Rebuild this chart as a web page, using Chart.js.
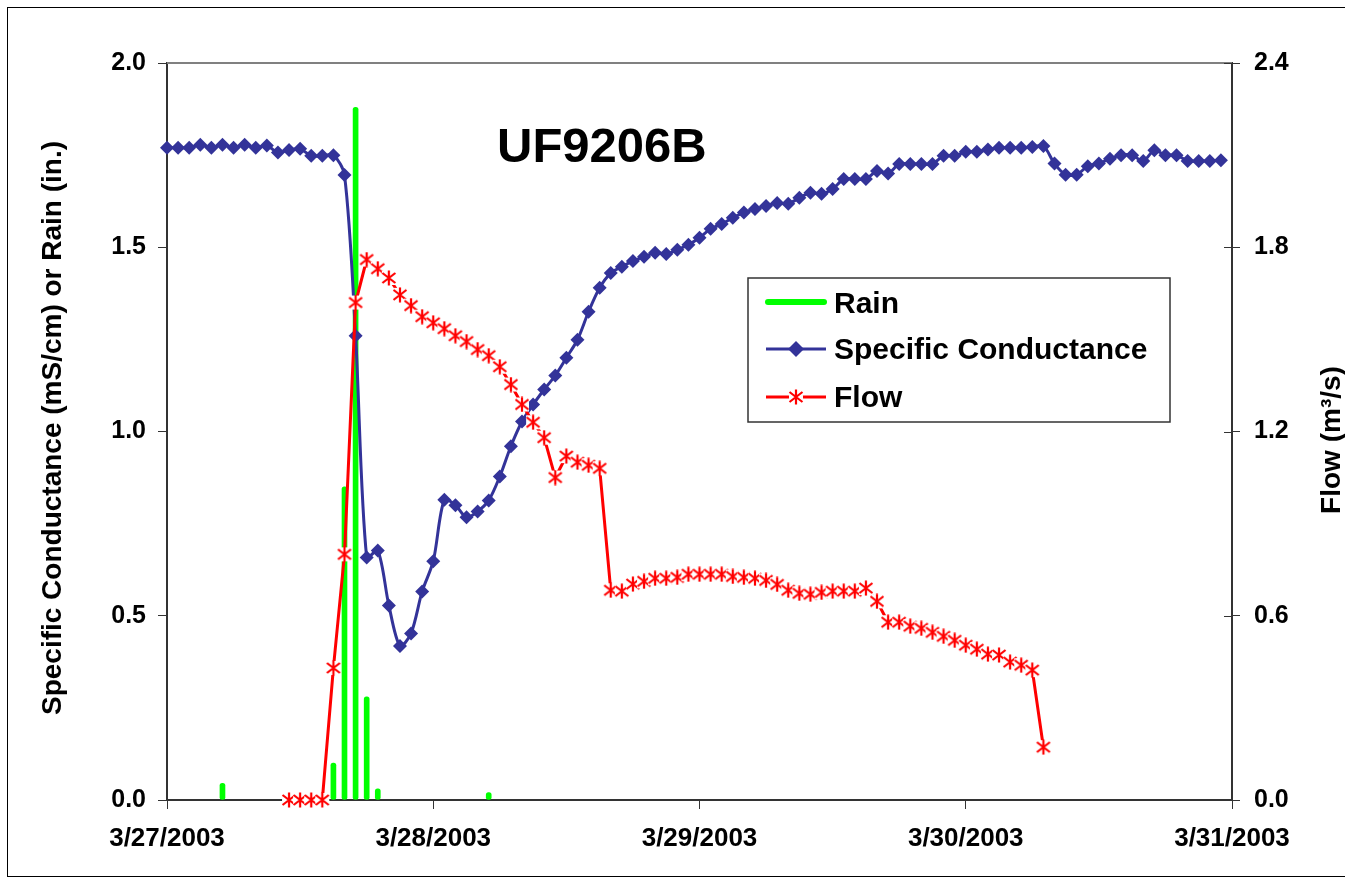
<!DOCTYPE html>
<html>
<head>
<meta charset="utf-8">
<title>UF9206B</title>
<script src="https://cdn.jsdelivr.net/npm/chart.js@4.4.1/dist/chart.umd.min.js"></script>
<style>
  html, body { margin: 0; padding: 0; background: #fff; }
  #wrap { width: 1345px; height: 883px; }
</style>
</head>
<body>
<div id="wrap"><canvas id="chart" width="1345" height="883"></canvas></div>
<script>
// x axis: hours after 3/27/2003 00:00
const dateLabels = ["3/27/2003", "3/28/2003", "3/29/2003", "3/30/2003", "3/31/2003"];

// specific conductance (mS/cm), hourly from hour 0
const conductance = [
  1.770, 1.770, 1.770, 1.778, 1.770, 1.778, 1.770, 1.778, 1.770, 1.776,
  1.757, 1.764, 1.767, 1.748, 1.748, 1.750, 1.696, 1.260, 0.658, 0.677,
  0.528, 0.418, 0.452, 0.566, 0.648, 0.815, 0.800, 0.767, 0.783, 0.813,
  0.878, 0.960, 1.027, 1.073, 1.114, 1.152, 1.200, 1.249, 1.325, 1.390,
  1.430, 1.447, 1.463, 1.474, 1.485, 1.482, 1.493, 1.507, 1.526, 1.550,
  1.563, 1.580, 1.594, 1.604, 1.612, 1.620, 1.618, 1.634, 1.648, 1.645,
  1.658, 1.685, 1.685, 1.685, 1.707, 1.700, 1.726, 1.726, 1.726, 1.726,
  1.748, 1.748, 1.759, 1.759, 1.765, 1.770, 1.770, 1.770, 1.772, 1.775,
  1.727, 1.697, 1.697, 1.720, 1.727, 1.740, 1.750, 1.750, 1.734, 1.763,
  1.750, 1.750, 1.734, 1.734, 1.734, 1.736
];

// flow (m3/s), hourly starting at hour 11
const flowStartHour = 11;
const flow = [
  0, 0, 0, 0, 0.43, 0.80, 1.62, 1.76, 1.73, 1.70,
  1.645, 1.61, 1.574, 1.554, 1.535, 1.512, 1.493, 1.467, 1.447, 1.411,
  1.353, 1.288, 1.23, 1.18, 1.05, 1.12, 1.10, 1.09, 1.08, 0.683,
  0.68, 0.703, 0.712, 0.722, 0.722, 0.725, 0.735, 0.735, 0.735, 0.735,
  0.728, 0.725, 0.722, 0.715, 0.702, 0.683, 0.673, 0.670, 0.676, 0.68,
  0.68, 0.68, 0.69, 0.647, 0.579, 0.579, 0.566, 0.559, 0.546, 0.533,
  0.52, 0.504, 0.491, 0.475, 0.472, 0.449, 0.439, 0.423, 0.172
];

// rain (in.)
const rainHours = [5, 15, 16, 17, 18, 19, 29];
const rain = [0.045, 0.10, 0.85, 1.88, 0.28, 0.03, 0.02];

const FONT = '"Liberation Sans", Arial, Helvetica, sans-serif';
const NAVY = "#333399";
const RED = "#FF0000";
const GREEN = "#00FF00";

// excel style star marker on a white square
function starMarker() {
  const c = document.createElement("canvas");
  c.width = 16; c.height = 16;
  const g = c.getContext("2d");
  g.fillStyle = "#fff";
  g.fillRect(1, 1, 14, 14);
  g.strokeStyle = RED;
  g.lineWidth = 2.2;
  g.beginPath();
  g.moveTo(8, 0.5); g.lineTo(8, 15.5);
  g.moveTo(1.5, 3); g.lineTo(14.5, 13);
  g.moveTo(14.5, 3); g.lineTo(1.5, 13);
  g.stroke();
  return c;
}
const star = starMarker();

const decor = {
  id: "decor",
  beforeDraw(chart) {
    const ctx = chart.ctx;
    ctx.save();
    ctx.fillStyle = "#fff";
    ctx.fillRect(0, 0, chart.width, chart.height);
    ctx.strokeStyle = "#000";
    ctx.lineWidth = 1;
    ctx.strokeRect(7.5, 7.5, chart.width + 20, 869);
    ctx.restore();
  },
  afterDraw(chart) {
    const { ctx, chartArea: a, scales } = chart;
    ctx.save();

    // top edge of plot area
    ctx.strokeStyle = "#808080";
    ctx.lineWidth = 2;
    ctx.beginPath();
    ctx.moveTo(a.left, a.top);
    ctx.lineTo(a.right, a.top);
    ctx.stroke();

    // right axis ticks cross the axis
    ctx.strokeStyle = "#333";
    ctx.lineWidth = 1;
    scales.y1.ticks.forEach(t => {
      const y = Math.round(scales.y1.getPixelForValue(t.value)) + 0.5;
      ctx.beginPath();
      ctx.moveTo(a.right - 8, y);
      ctx.lineTo(a.right, y);
      ctx.stroke();
    });

    // station name
    ctx.fillStyle = "#000";
    ctx.font = "bold 49px " + FONT;
    ctx.textAlign = "left";
    ctx.textBaseline = "alphabetic";
    ctx.fillText("UF9206B", 497, 162);

    // axis titles
    ctx.font = "bold 28px " + FONT;
    ctx.textAlign = "center";
    ctx.save();
    ctx.translate(61, 428);
    ctx.rotate(-Math.PI / 2);
    ctx.fillText("Specific Conductance (mS/cm) or Rain (in.)", 0, 0);
    ctx.restore();
    ctx.save();
    ctx.translate(1340, 440);
    ctx.rotate(-Math.PI / 2);
    ctx.fillText("Flow (m\u00B3/s)", 0, 0);
    ctx.restore();

    // legend box
    const lx = 748, ly = 278, lw = 422, lh = 144;
    ctx.fillStyle = "#fff";
    ctx.fillRect(lx, ly, lw, lh);
    ctx.strokeStyle = "#333";
    ctx.lineWidth = 1.5;
    ctx.strokeRect(lx, ly, lw, lh);

    ctx.lineCap = "round";
    // rain
    ctx.strokeStyle = GREEN;
    ctx.lineWidth = 6;
    ctx.beginPath(); ctx.moveTo(768, 302); ctx.lineTo(824, 302); ctx.stroke();
    // conductance
    ctx.lineCap = "butt";
    ctx.strokeStyle = NAVY;
    ctx.lineWidth = 3;
    ctx.beginPath(); ctx.moveTo(766, 349); ctx.lineTo(826, 349); ctx.stroke();
    ctx.fillStyle = NAVY;
    ctx.beginPath();
    ctx.moveTo(796, 341); ctx.lineTo(804, 349); ctx.lineTo(796, 357); ctx.lineTo(788, 349);
    ctx.closePath(); ctx.fill();
    // flow
    ctx.strokeStyle = RED;
    ctx.beginPath(); ctx.moveTo(766, 397); ctx.lineTo(826, 397); ctx.stroke();
    ctx.drawImage(star, 788, 389);

    ctx.fillStyle = "#000";
    ctx.font = "bold 30px " + FONT;
    ctx.textAlign = "left";
    ctx.textBaseline = "alphabetic";
    ctx.fillText("Rain", 834, 313);
    ctx.fillText("Specific Conductance", 834, 359);
    ctx.fillText("Flow", 834, 407);

    ctx.restore();
  }
};

const condPoints = conductance.map((v, i) => ({ x: i, y: v }));
const flowPoints = flow.map((v, i) => ({ x: flowStartHour + i, y: v }));
const rainPoints = rain.map((v, i) => ({ x: rainHours[i], y: v }));

new Chart(document.getElementById("chart"), {
  type: "line",
  data: {
    datasets: [
      {
        type: "bar",
        label: "Rain",
        data: rainPoints,
        yAxisID: "y",
        backgroundColor: GREEN,
        barThickness: 5,
        borderRadius: 2.5,
        borderSkipped: false,
        order: 3
      },
      {
        label: "Specific Conductance",
        data: condPoints,
        yAxisID: "y",
        borderColor: NAVY,
        backgroundColor: NAVY,
        borderWidth: 3,
        tension: 0.3,
        pointStyle: "rectRot",
        pointRadius: 7,
        pointBorderWidth: 0,
        pointBackgroundColor: NAVY,
        clip: false,
        order: 2
      },
      {
        label: "Flow",
        data: flowPoints,
        yAxisID: "y1",
        borderColor: RED,
        borderWidth: 3,
        tension: 0,
        pointStyle: star,
        pointRadius: 8,
        clip: false,
        order: 1
      }
    ]
  },
  options: {
    responsive: false,
    animation: false,
    layout: { padding: { top: 63, left: 0, right: 0, bottom: 0 } },
    plugins: {
      legend: { display: false },
      tooltip: { enabled: false }
    },
    scales: {
      x: {
        type: "linear",
        min: 0,
        max: 96,
        offset: false,
        afterFit: s => { s.height = 83; },
        border: { display: true, color: "#333", width: 2 },
        grid: { drawOnChartArea: false, offset: false, tickLength: 9, color: "#333" },
        ticks: {
          stepSize: 24,
          autoSkip: false,
          maxRotation: 0,
          padding: 14,
          color: "#000",
          font: { family: FONT, size: 26, weight: "bold" },
          callback: v => dateLabels[v / 24]
        }
      },
      y: {
        position: "left",
        min: 0,
        max: 2,
        afterFit: s => { s.width = 167; },
        border: { display: true, color: "#333", width: 2 },
        grid: { drawOnChartArea: false, tickLength: 9, color: "#333" },
        ticks: {
          stepSize: 0.5,
          padding: 12,
          color: "#000",
          font: { family: FONT, size: 25, weight: "bold" },
          callback: v => v.toFixed(1)
        }
      },
      y1: {
        position: "right",
        min: 0,
        max: 2.4,
        afterFit: s => { s.width = 113; },
        border: { display: true, color: "#333", width: 2 },
        grid: { drawOnChartArea: false, tickLength: 8, color: "#333" },
        ticks: {
          stepSize: 0.6,
          padding: 14,
          color: "#000",
          font: { family: FONT, size: 25, weight: "bold" },
          callback: v => v.toFixed(1)
        }
      }
    }
  },
  plugins: [decor]
});
</script>
</body>
</html>
